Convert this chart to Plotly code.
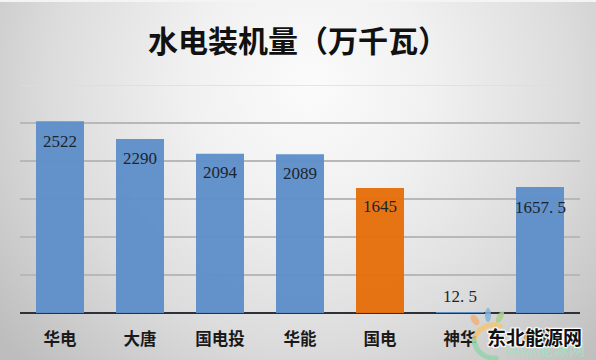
import base64
import plotly.graph_objects as go

categories = ["华电", "大唐", "国电投", "华能", "国电", "神华", "国投"]
values = [2522, 2290, 2094, 2089, 1645, 12.5, 1657.5]
value_labels = ["2522", "2290", "2094", "2089", "1645", "12. 5", "1657. 5"]
label_shifts = [-20, -20, -19, -19, -19, 16, -20]
bar_colors = ["#5f8fc9", "#5f8fc9", "#5f8fc9", "#5f8fc9", "#e66f0c", "#5f8fc9", "#5f8fc9"]
y_ticks = [0, 500, 1000, 1500, 2000, 2500]
y_top = 3000
title_text = "水电装机量（万千瓦）"
watermark_main = "东北能源网"
watermark_sub = "国际能源网"

W, H = 596, 360
L, R, T, B = 20, 580, 85, 313
PW, PH = R - L, B - T


def uri(svg):
    return "data:image/svg+xml;base64," + base64.b64encode(svg.encode()).decode()


bg_svg = f'''<svg xmlns="http://www.w3.org/2000/svg" width="{W}" height="{H}" viewBox="0 0 {W} {H}">
<defs><radialGradient id="g" gradientUnits="userSpaceOnUse" cx="310" cy="85" r="400">
<stop offset="0" stop-color="#fbfbfb"/><stop offset="0.3" stop-color="#f1f1f1"/>
<stop offset="0.65" stop-color="#dcdcdc"/><stop offset="1" stop-color="#bdbdbd"/>
</radialGradient></defs>
<rect width="{W}" height="{H}" fill="url(#g)"/>
<rect width="{W}" height="2" fill="#f4f4f4"/>
</svg>'''

logo_svg = f'''<svg xmlns="http://www.w3.org/2000/svg" width="{W}" height="{H}" viewBox="0 0 {W} {H}">
<g fill="none" stroke-linecap="round">
<path d="M474 340 A20 20 0 0 1 500 326" stroke="#f3c56f" stroke-width="5" opacity="0.8"/>
<path d="M474 340 A20 20 0 0 0 496 358" stroke="#8fd3a8" stroke-width="5" opacity="0.8"/>
</g>
<ellipse cx="475" cy="320" rx="3.5" ry="6" transform="rotate(-35 475 320)" fill="#eeb27c" opacity="0.85"/>
<ellipse cx="488" cy="315" rx="3" ry="7" fill="#7fb4dc" opacity="0.85"/>
<ellipse cx="500" cy="317" rx="3" ry="6.5" transform="rotate(30 500 317)" fill="#a9cf8c" opacity="0.85"/>
</svg>'''


def full_page_image(svg, layer):
    return dict(source=uri(svg), xref="paper", yref="paper", xanchor="left", yanchor="top",
                x=-L / PW, y=B / PH, sizex=W / PW, sizey=H / PH, sizing="stretch", layer=layer)


fig = go.Figure(go.Bar(
    x=categories, y=values,
    marker=dict(color=bar_colors, opacity=0.97, line=dict(width=0)),
    hoverinfo="skip",
))

annotations = [
    dict(x=c, y=v, text=t, yshift=s, showarrow=False, yanchor="middle", xanchor="center",
         font=dict(family="Liberation Serif", size=17, color="#1c2430"))
    for c, v, t, s in zip(categories, values, value_labels, label_shifts)
]
annotations += [
    dict(xref="paper", yref="paper", x=(545 - L) / PW, y=(B - 348) / PH, text=watermark_sub,
         xanchor="center", yanchor="middle",
         showarrow=False, font=dict(family="Noto Sans CJK SC", size=16, color="#a9dcc2")),
    dict(xref="paper", yref="paper", x=(534.5 - L) / PW, y=(B - 336) / PH, text=watermark_main,
         xanchor="center", yanchor="middle",
         showarrow=False,
         font=dict(family="Noto Sans CJK SC", size=19, color="#111111", weight="bold",
                   shadow="1px 1px 1px #fff, -1px -1px 1px #fff, 1px -1px 1px #fff, -1px 1px 1px #fff, 0 0 3px #fff"),),
]

fig.update_layout(
    width=W, height=H, autosize=False,
    margin=dict(l=L, r=W - R, t=T, b=H - B, pad=0, autoexpand=False),
    paper_bgcolor="#e6e6e6", plot_bgcolor="rgba(0,0,0,0)",
    showlegend=False, bargap=0.4,
    title=dict(text=title_text, x=0.5, xanchor="center", y=1 - 41 / H, yanchor="middle",
               font=dict(family="Noto Sans CJK SC", size=30, color="#111111", weight="bold")),
    xaxis=dict(type="category", categoryorder="array", categoryarray=categories, automargin=False,
               showgrid=False, zeroline=False, showline=False, ticks="",
               tickfont=dict(family="Noto Sans CJK SC", size=16.5, color="#1a1a1a", weight="bold"),
               ticklabelstandoff=14),
    yaxis=dict(range=[0, y_top], tickvals=y_ticks, showticklabels=False, ticks="", automargin=False,
               showgrid=True, gridcolor="#b8b8b8", gridwidth=1.5, layer="below traces",
               zeroline=True, zerolinecolor="#2f3136", zerolinewidth=2, showline=False),
    shapes=[dict(type="line", xref="paper", x0=0, x1=1, yref="y", y0=y_top, y1=y_top,
                 line=dict(color="#dcdcdc", width=1.5), layer="below")],
    annotations=annotations,
    images=[full_page_image(bg_svg, "below"), full_page_image(logo_svg, "above")],
    font=dict(family="Noto Sans CJK SC"),
)

fig.write_html("out.html", config={"displayModeBar": False},
               post_script="document.body.style.margin='0';document.documentElement.style.overflow='hidden';")
